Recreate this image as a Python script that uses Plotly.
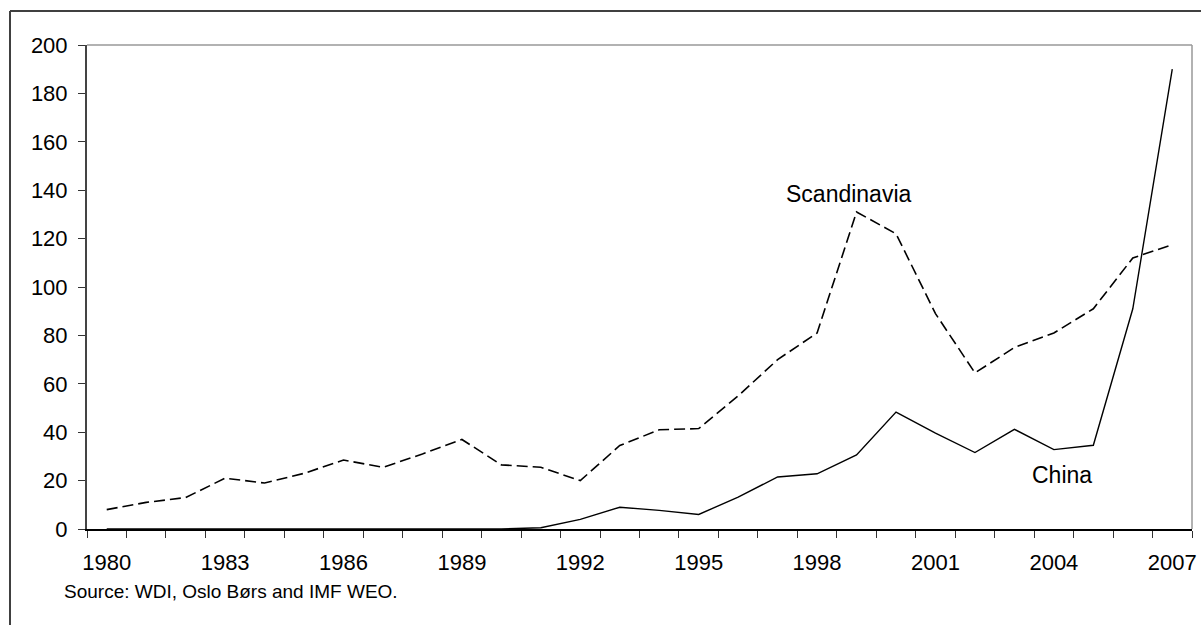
import plotly.graph_objects as go

years = list(range(1980, 2008))
scandinavia = [8, 11, 13, 21, 19, 23, 28.5, 25.5, 31, 37, 26.5, 25.5, 20, 34.5, 41, 41.5,
               55, 70, 81, 131, 122, 89, 64.5, 75, 81, 91, 112, 117.5]
china = [0, 0, 0, 0, 0, 0, 0, 0, 0, 0, 0, 0.5, 4, 9, 7.7, 6, 13.2, 21.5, 22.8, 30.6,
         48.3, 39.6, 31.6, 41.2, 32.8, 34.6, 91, 190]
x_tick_years = [1980, 1983, 1986, 1989, 1992, 1995, 1998, 2001, 2004, 2007]
y_ticks = list(range(0, 201, 20))
source_text = "Source: WDI, Oslo Børs and IMF WEO."

FONT = "Liberation Sans, Arial, sans-serif"

fig = go.Figure()
fig.add_trace(go.Scatter(x=years, y=scandinavia, mode="lines", name="Scandinavia",
                         line=dict(color="black", width=1.6, dash="11px,5px")))
fig.add_trace(go.Scatter(x=years, y=china, mode="lines", name="China",
                         line=dict(color="black", width=1.4)))

boundaries = [y - 0.5 for y in years] + [years[-1] + 0.5]

fig.update_layout(
    width=1201, height=625,
    margin=dict(l=87, r=9, t=45, b=96),
    paper_bgcolor="white", plot_bgcolor="white",
    showlegend=False,
    font=dict(family=FONT, color="black", size=20),
    xaxis=dict(range=[years[0] - 0.5, years[-1] + 0.5], tickvals=x_tick_years,
               ticktext=[str(v) for v in x_tick_years], ticks="", showgrid=False,
               zeroline=False, showline=True, linecolor="black", linewidth=2,
               tickfont=dict(size=22), ticklabelstandoff=13, ticklabeloverflow="allow",
               automargin=False,
               minor=dict(tickvals=boundaries, ticks="outside", ticklen=7,
                          tickcolor="#333333", tickwidth=1.2, showgrid=False)),
    yaxis=dict(range=[0, 200], tickvals=y_ticks, ticks="outside", ticklen=7,
               tickcolor="#333333", tickwidth=1.2, showgrid=False, zeroline=False,
               showline=True, linecolor="#444444", linewidth=2, automargin=False,
               tickfont=dict(size=22), ticklabelstandoff=6),
)

# plot-area top/right border (light gray)
fig.add_shape(type="line", xref="x domain", yref="y domain", x0=0, x1=1, y0=1, y1=1,
              line=dict(color="#999999", width=1.5))
fig.add_shape(type="line", xref="x domain", yref="y domain", x0=1, x1=1, y0=0, y1=1,
              line=dict(color="#999999", width=1.5))

# outer frame (top and left)
pw, ph = 1201 - 87 - 9, 625 - 45 - 96
fx0 = (10 - 87) / pw
fy_top = 1 + (45 - 11) / ph
fy_bot = -(625 - 45 - ph) / ph - 0.05
fig.add_shape(type="line", xref="paper", yref="paper", x0=fx0, x1=1.2, y0=fy_top, y1=fy_top,
              line=dict(color="#404040", width=2))
fig.add_shape(type="line", xref="paper", yref="paper", x0=fx0, x1=fx0, y0=fy_top, y1=fy_bot,
              line=dict(color="#404040", width=2))

fig.add_annotation(x=1998.8, y=138.5, text="Scandinavia", showarrow=False,
                   font=dict(size=23, family=FONT), xanchor="center", yanchor="middle")
fig.add_annotation(x=2004.2, y=22.4, text="China", showarrow=False,
                   font=dict(size=23, family=FONT), xanchor="center", yanchor="middle")
fig.add_annotation(x=(62 - 87) / pw, y=-(591.7 - 45 - ph) / ph, xref="paper", yref="paper",
                   text=source_text, showarrow=False, xanchor="left", yanchor="middle",
                   font=dict(size=19, family=FONT))

fig.write_html("out.html", config={"displayModeBar": False},
               post_script="document.body.style.margin='0';")
